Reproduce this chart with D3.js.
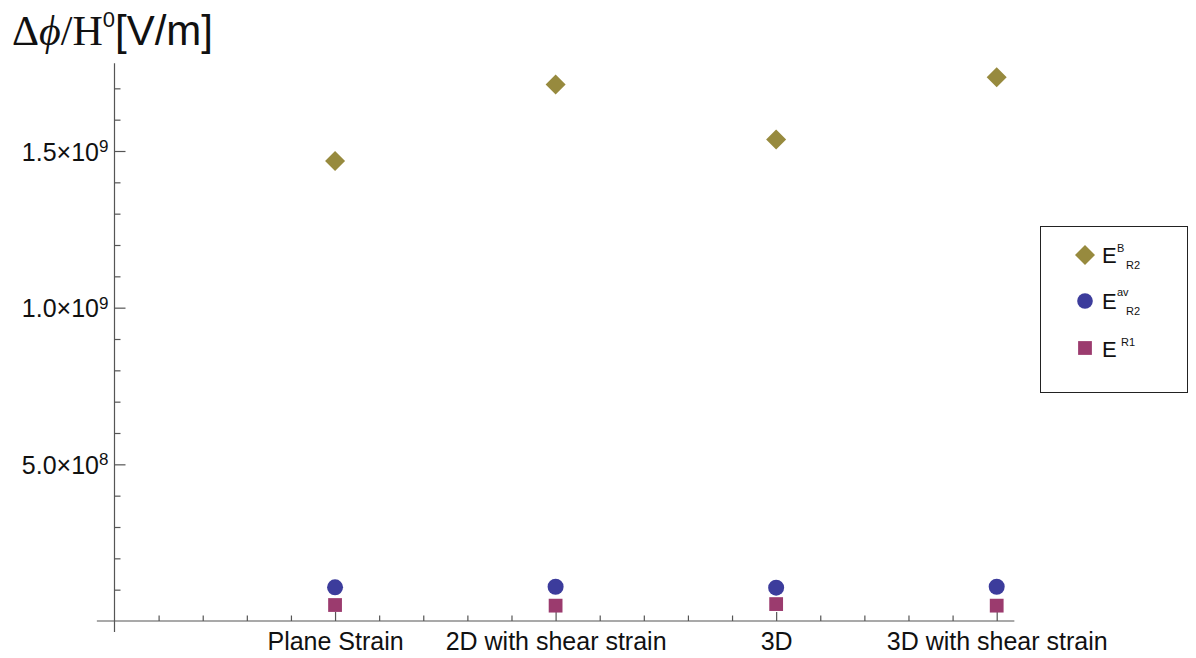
<!DOCTYPE html>
<html>
<head>
<meta charset="utf-8">
<script src="https://cdn.jsdelivr.net/npm/d3@7"></script>
<style>
  body { margin: 0; background: #fff; }
  svg { display: block; font-family: "Liberation Sans", Arial, sans-serif; }
  .axis path { display: none; }
  .axis line { stroke: #555; stroke-width: 1.2; }
  .axis text { fill: #111; }
</style>
</head>
<body>
<svg id="chart"></svg>
<script>
// data
const categories = ["Plane Strain", "2D with shear strain", "3D", "3D with shear strain"];
const eB = [1.468e9, 1.712e9, 1.537e9, 1.735e9];
const eAv = [1.075e8, 1.094e8, 1.063e8, 1.094e8];
const eR1 = [5.1e7, 4.9e7, 5.4e7, 4.9e7];
const yMajor = [5e8, 1e9, 1.5e9];
const yMinor = [1e8, 2e8, 3e8, 4e8, 6e8, 7e8, 8e8, 9e8, 1.1e9, 1.2e9, 1.3e9, 1.4e9, 1.6e9, 1.7e9];
const xMinor = d3.range(1, 20).map(i => i / 5).filter(d => Math.abs(d - Math.round(d)) > 1e-6);

const W = 1196, H = 658;
const svg = d3.select("#chart").attr("width", W).attr("height", H);

const x = d3.scaleLinear().domain([0, 4]).range([114.5, 996.7]);
const y = d3.scaleLinear().domain([0, 1.5e9]).range([621, 151]);

const colors = {B: "#978a3e", av: "#3c3c9c", R1: "#9b3b6e"};

// axis lines (cross at origin, extend a little beyond)
svg.append("line")
  .attr("x1", x(-0.08)).attr("x2", x(4.08))
  .attr("y1", y(0)).attr("y2", y(0))
  .attr("stroke", "#555").attr("stroke-width", 1.2);
svg.append("line")
  .attr("x1", x(0)).attr("x2", x(0))
  .attr("y1", y(-3.5e7)).attr("y2", y(1.78e9))
  .attr("stroke", "#555").attr("stroke-width", 1.2);

// x axis: major ticks with labels, minor ticks
const xAxisG = svg.append("g")
  .attr("class", "axis")
  .attr("transform", `translate(0,${y(0)})`)
  .call(d3.axisBottom(x).tickValues([1, 2, 3, 4]).tickSize(-9).tickPadding(11)
    .tickFormat((d, i) => categories[i]));
xAxisG.selectAll("text").style("font-size", "25px");

svg.append("g")
  .attr("class", "axis")
  .attr("transform", `translate(0,${y(0)})`)
  .call(d3.axisBottom(x).tickValues(xMinor).tickSize(-5.5).tickFormat(""));

// y axis
const yAxisG = svg.append("g")
  .attr("class", "axis")
  .attr("transform", `translate(${x(0)},0)`)
  .call(d3.axisLeft(y).tickValues(yMajor).tickSize(-11).tickPadding(6).tickFormat(""));

yAxisG.selectAll(".tick text")
  .style("font-size", "25px")
  .attr("dy", "0.36em")
  .each(function(d) {
    const exp = Math.floor(Math.log10(d));
    const man = (d / Math.pow(10, exp)).toFixed(1);
    const t = d3.select(this);
    t.append("tspan").text(man + "\u00d710");
    t.append("tspan").attr("dy", "-0.5em").style("font-size", "17px").text(exp);
  });

svg.append("g")
  .attr("class", "axis")
  .attr("transform", `translate(${x(0)},0)`)
  .call(d3.axisLeft(y).tickValues(yMinor).tickSize(-6).tickFormat(""));

// title / axis label
const title = svg.append("text").attr("x", 12).attr("y", 45).attr("fill", "#111");
title.append("tspan").style("font-family", "'Liberation Serif', serif").style("font-size", "42px").text("\u0394");
title.append("tspan").style("font-family", "'Liberation Serif', serif").style("font-style", "italic").style("font-size", "42px").text("\u03d5");
title.append("tspan").style("font-family", "'Liberation Serif', serif").style("font-size", "42px").text("/H");
title.append("tspan").attr("dy", -18).style("font-size", "22px").text("0");
title.append("tspan").attr("dy", 18).style("font-size", "42px").text("[V/m]");

// markers
const diamond = d3.symbol().type(d3.symbolSquare).size(200);
const square = d3.symbol().type(d3.symbolSquare).size(190);

svg.append("g").selectAll("path")
  .data(eB)
  .join("path")
  .attr("d", diamond)
  .attr("transform", (d, i) => `translate(${x(i + 1)},${y(d)}) rotate(45)`)
  .attr("fill", colors.B);

svg.append("g").selectAll("rect")
  .data(eR1)
  .join("path")
  .attr("d", square)
  .attr("transform", (d, i) => `translate(${x(i + 1)},${y(d)})`)
  .attr("fill", colors.R1);

svg.append("g").selectAll("circle")
  .data(eAv)
  .join("circle")
  .attr("cx", (d, i) => x(i + 1))
  .attr("cy", d => y(d))
  .attr("r", 8)
  .attr("fill", colors.av);

// legend
const lg = svg.append("g");
lg.append("rect")
  .attr("x", 1040.5).attr("y", 226.5).attr("width", 147).attr("height", 166)
  .attr("fill", "#fff").attr("stroke", "#222").attr("stroke-width", 1);

lg.append("path").attr("d", diamond).attr("transform", "translate(1085,255) rotate(45)").attr("fill", colors.B);
lg.append("circle").attr("cx", 1085).attr("cy", 301).attr("r", 7.8).attr("fill", colors.av);
lg.append("path").attr("d", square).attr("transform", "translate(1085,348)").attr("fill", colors.R1);

function legendLabel(yBase, sup, supX, supY, sub, subX, subY) {
  lg.append("text").attr("x", 1102).attr("y", yBase).style("font-size", "22px").attr("fill", "#111").text("E");
  if (sup) lg.append("text").attr("x", supX).attr("y", supY).style("font-size", "11px").attr("fill", "#111").text(sup);
  if (sub) lg.append("text").attr("x", subX).attr("y", subY).style("font-size", "11px").attr("fill", "#111").text(sub);
}
legendLabel(263, "B", 1117, 252, "R2", 1126, 268.5);
legendLabel(309, "av", 1117, 296, "R2", 1126, 315);
legendLabel(357, "R1", 1121, 346, null);
</script>
</body>
</html>
